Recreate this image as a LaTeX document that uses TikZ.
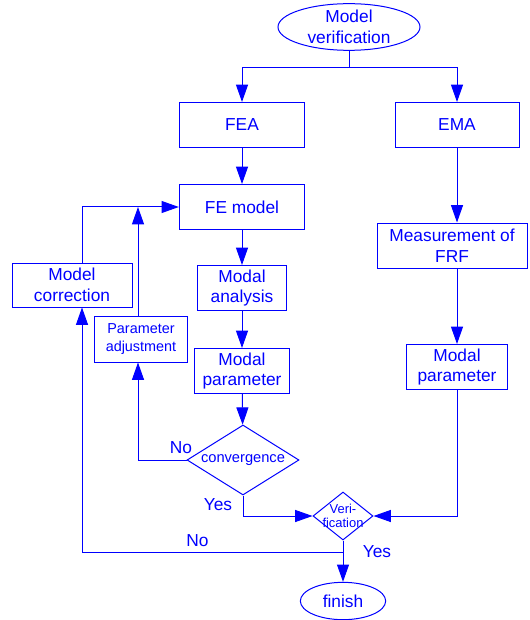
\documentclass[tikz,border=0pt]{standalone}
\usepackage{fontspec}
\setmainfont{Liberation Sans}
\usetikzlibrary{positioning,shapes.geometric,arrows.meta}

\begin{document}
\begin{tikzpicture}[x=0.75pt,y=-0.75pt,
every node/.style={text=blue, font=\fontsize{13}{15.5}\selectfont},
square/.style={rectangle, draw=blue, line width=0.75pt, align=center, inner sep=2pt, minimum height=33.75pt},
square_small/.style={square, font=\fontsize{10.8}{13}\selectfont},
oval/.style={ellipse, draw=blue, line width=0.75pt, align=center},
decision/.style={diamond, draw=blue, line width=0.75pt, align=center},
answer/.style={anchor=base},
flow/.style={draw=blue, line width=0.75pt, -{Triangle[length=13pt,width=9pt]}},
]
\useasboundingbox (0,0) rectangle (529,620);

% \node[type](name_of_node) at (x,y) / [below=... of name_of_node]{text_in_node}
\node[oval, inner sep=-3pt, minimum width=106.5pt, minimum height=35pt](verification_start) at (349,27){Model\\verification};

\node[square, minimum width=94pt](fea_box) at (242,125){FEA};
\node[square, minimum width=93pt](ema_box) at (457,125){EMA};

\node[square, minimum width=94pt](fe_model)[below=27pt of fea_box]{FE model};
\node[square, minimum width=67pt](modal_analysis)[below=26.25pt of fe_model]{Modal\\analysis};
\node[square, minimum width=71pt](modal_parameter_one)[below=27.75pt of modal_analysis]{Modal\\parameter};
\node[decision, aspect=1.6, inner sep=0pt, minimum width=84pt, minimum height=52.5pt, font=\fontsize{11}{13}\selectfont](convergence_check) at (243,460){convergence};

\node[square_small, minimum width=70pt, minimum height=34.5pt](parameter_adjustment) at (141,339){Parameter\\adjustment};
\node[square, minimum width=90pt, minimum height=33pt](model_correction) at (72,285){Model\\correction};

\node[square, minimum width=112.5pt](measurement_frf) at (452,245.5){Measurement of\\FRF};
\node[square, minimum width=76pt](modal_parameter_two) at (457,367){Modal\\parameter};

\node[decision, aspect=1.25, inner sep=-5pt, minimum width=45pt, minimum height=36pt, font=\fontsize{9.7}{10.8}\selectfont](verification_check) at (343,516){Veri-\\fication};
\node[oval, inner sep=0pt, minimum width=64pt, minimum height=28pt](finish_end) at (343,601){finish};

\node[answer](no_one) at (181,453){No};
\node[answer](yes_one) at (218,510){Yes};
\node[answer](no_two) at (197.5,546.5){No};
\node[answer](yes_two) at (377,557.5){Yes};

% loop lines sit off the box centres
\coordinate (adjust_top) at ([xshift=-2.25pt]parameter_adjustment.north);
\coordinate (adjust_bottom) at ([xshift=-2.25pt]parameter_adjustment.south);
\coordinate (correction_top) at ([xshift=7.5pt]model_correction.north);
\coordinate (correction_bottom) at ([xshift=7.5pt]model_correction.south);

% \draw[flow] (name_of_node.direction) -- (name_of_node.direction)
\draw[flow] (verification_start.south) -- ++(0,17) -| (fea_box.north);
\draw[flow] (verification_start.south) -- ++(0,17) -| (ema_box.north);

\draw[flow] (fea_box) -- (fe_model);
\draw[flow] (fe_model) -- (modal_analysis);
\draw[flow] (modal_analysis) -- (modal_parameter_one);
\draw[flow] (modal_parameter_one) -- (convergence_check);

\draw[flow] (ema_box) -- (ema_box |- measurement_frf.north);
\draw[flow] (ema_box |- measurement_frf.south) -- (modal_parameter_two);

\draw[flow] (convergence_check.west) -| (adjust_bottom);
\draw[flow] (adjust_top) -- (adjust_top |- fe_model.west);
\draw[flow] (correction_top) |- (fe_model.west);

\draw[flow] (convergence_check.south) |- (verification_check.west);
\draw[flow] (modal_parameter_two.south) |- (verification_check.east);

\draw[flow] (verification_check.south) -- (finish_end.north);
\draw[flow] (verification_check.south) -- ++(0,12) -| (correction_bottom);

\end{tikzpicture}
\end{document}
